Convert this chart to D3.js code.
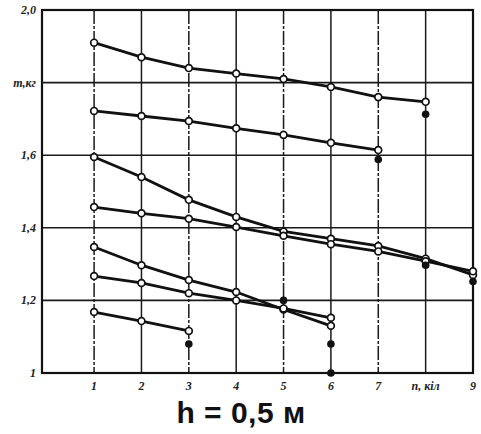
<!DOCTYPE html>
<meta charset="utf-8">
<head>
    <title>m vs n</title>
</head>
<style>
    body { margin: 0; background: #fff; }
    .tick-label { font-family: "Liberation Serif", serif; font-style: italic; font-weight: bold; font-size: 12px; fill: #222; }
    .title { font-family: "Liberation Sans", Arial, sans-serif; font-weight: bold; font-size: 30px; fill: #111; letter-spacing: 0.5px; }
</style>
<body>
    <svg width="481" height="434"></svg>

    <script src="https://cdnjs.cloudflare.com/ajax/libs/d3/7.8.5/d3.min.js"></script>
    <script>
        var nValues = [1, 2, 3, 4, 5, 6, 7, 8, 9]
        var xTickLabels = ['1', '2', '3', '4', '5', '6', '7', 'n, кіл', '9']
        var yTicks = [1, 1.2, 1.4, 1.6, 1.8, 2.0]
        var yTickLabels = ['1', '1,2', '1,4', '1,6', 'm,кг', '2,0']

        // each curve: mass at n = 1, 2, ...
        var curveA = [1.91, 1.87, 1.84, 1.825, 1.81, 1.788, 1.76, 1.747]
        var curveB = [1.722, 1.708, 1.694, 1.674, 1.656, 1.634, 1.614]
        var curveC = [1.595, 1.54, 1.477, 1.43, 1.39, 1.37, 1.35, 1.315, 1.27]
        var curveD = [1.457, 1.44, 1.425, 1.402, 1.378, 1.355, 1.335, 1.308, 1.28]
        var curveE = [1.347, 1.297, 1.256, 1.223, 1.175, 1.13]
        var curveF = [1.267, 1.248, 1.22, 1.2, 1.178, 1.152]
        var curveG = [1.168, 1.143, 1.116]
        var curves = [curveA, curveB, curveC, curveD, curveE, curveF, curveG]

        // loose filled points [n, m]
        var extraPoints = [[8, 1.713], [7, 1.588], [9, 1.252], [6, 1.08], [6, 1.0], [3, 1.08], [5, 1.2], [8, 1.297]]

        var svg = d3.select('svg')
        var x = d3.scaleLinear().domain([-0.1, 9]).range([42, 473])
        var y = d3.scaleLinear().domain([1, 2]).range([373, 10])

        // grid
        svg.selectAll('line.vgrid')
            .data(nValues.slice(0, 8))
            .enter()
            .append('line')
            .attr('x1', function (d) { return x(d) })
            .attr('x2', function (d) { return x(d) })
            .attr('y1', y(2))
            .attr('y2', y(1))
            .attr('stroke', '#1a1a1a')
            .attr('stroke-width', 1.5)
            .attr('stroke-dasharray', function (d, i) { return i % 2 ? null : '14,2,3,2' })

        svg.selectAll('line.hgrid')
            .data(yTicks.slice(1, 5))
            .enter()
            .append('line')
            .attr('x1', x(-0.1))
            .attr('x2', x(9))
            .attr('y1', function (d) { return y(d) })
            .attr('y2', function (d) { return y(d) })
            .attr('stroke', '#1a1a1a')
            .attr('stroke-width', 1.6)

        // frame
        svg.append('rect')
            .attr('x', x(-0.1))
            .attr('y', y(2))
            .attr('width', x(9) - x(-0.1))
            .attr('height', y(1) - y(2))
            .attr('fill', 'none')
            .attr('stroke', '#111')
            .attr('stroke-width', 2.2)

        // curves
        var line = d3.line()
            .x(function (d, i) { return x(i + 1) })
            .y(function (d) { return y(d) })

        svg.selectAll('path.curve')
            .data(curves)
            .enter()
            .append('path')
            .attr('d', line)
            .attr('fill', 'none')
            .attr('stroke', '#111')
            .attr('stroke-width', 2.8)

        curves.forEach(function (c) {
            svg.selectAll(null)
                .data(c)
                .enter()
                .append('circle')
                .attr('cx', function (d, i) { return x(i + 1) })
                .attr('cy', function (d) { return y(d) })
                .attr('r', 3.4)
                .attr('fill', '#fff')
                .attr('stroke', '#111')
                .attr('stroke-width', 1.7)
        })

        svg.selectAll('circle.extra')
            .data(extraPoints)
            .enter()
            .append('circle')
            .attr('cx', function (d) { return x(d[0]) })
            .attr('cy', function (d) { return y(d[1]) })
            .attr('r', 3.8)
            .attr('fill', '#111')

        // tick labels
        svg.selectAll('text.ylab')
            .data(yTicks)
            .enter()
            .append('text')
            .attr('class', 'tick-label')
            .attr('x', 36)
            .attr('y', function (d) { return y(d) + 4 })
            .attr('text-anchor', 'end')
            .text(function (d, i) { return yTickLabels[i] })

        svg.selectAll('text.xlab')
            .data(nValues)
            .enter()
            .append('text')
            .attr('class', 'tick-label')
            .attr('x', function (d) { return x(d) })
            .attr('y', y(1) + 17)
            .attr('text-anchor', 'middle')
            .text(function (d, i) { return xTickLabels[i] })

        svg.append('text')
            .attr('class', 'title')
            .attr('x', 241)
            .attr('y', 423)
            .attr('text-anchor', 'middle')
            .text('h = 0,5 м')
    </script>
</body>
</html>
